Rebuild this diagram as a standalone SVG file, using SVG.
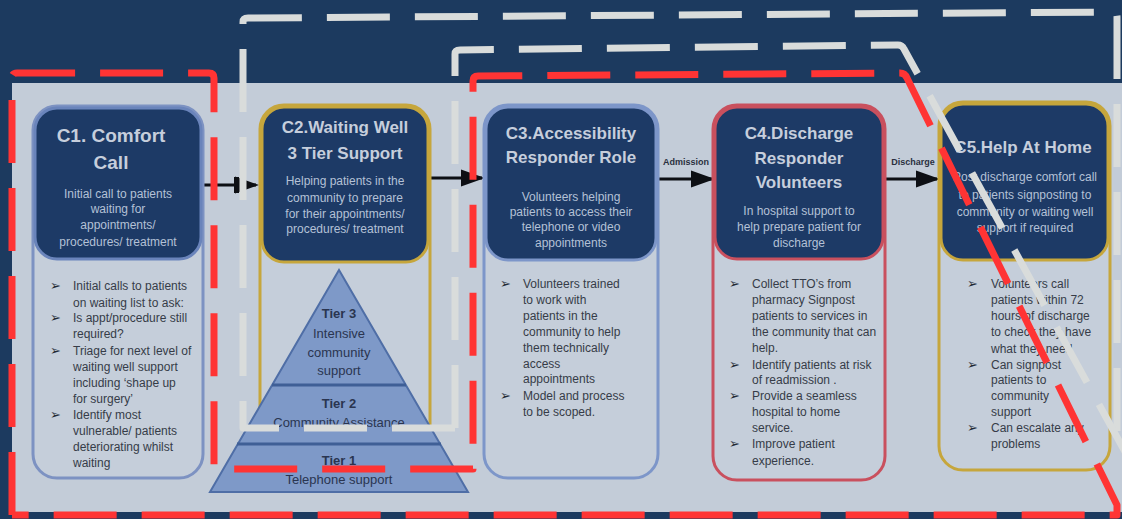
<svg xmlns="http://www.w3.org/2000/svg" width="1122" height="519" viewBox="0 0 1122 519">
  <defs>
    <style>
      .title { font-family: "Liberation Sans", Arial, sans-serif; font-weight: bold; fill: #c6cedc; text-anchor: middle; }
      .desc { font-family: "Liberation Sans", Arial, sans-serif; font-size: 12px; fill: #b4c1d6; text-anchor: middle; }
      .body { font-family: "Liberation Sans", Arial, sans-serif; font-size: 12px; fill: #363c48; }
      .bul { font-family: "DejaVu Sans", sans-serif; font-size: 13px; fill: #232833; }
      .tier { font-family: "Liberation Sans", Arial, sans-serif; font-size: 13px; fill: #2a3550; text-anchor: middle; }
      .tierb { font-weight: bold; }
      .lbl { font-family: "Liberation Sans", Arial, sans-serif; font-size: 9px; font-weight: bold; fill: #2a3040; text-anchor: middle; }
      .head { fill: #1d3a66; stroke-width: 3; }
      .card { fill: #c5ceda; stroke-width: 3; }
      .conn { stroke: #0d0f14; stroke-width: 3; fill: none; }
      .dash-red { fill: none; stroke: #ff3434; stroke-width: 7; stroke-dasharray: 63 25; stroke-linejoin: round; }
      .dash-white { fill: none; stroke: #d9dcdb; stroke-width: 7; stroke-dasharray: 63 25; stroke-linejoin: round; }
    </style>
    <marker id="arrow" markerWidth="8" markerHeight="8" refX="7" refY="4" orient="auto" markerUnits="strokeWidth">
      <path d="M0,1.2 L8,4 L0,6.8 Z" fill="#0d0f14"/>
    </marker>
  </defs>

  <!-- backdrop -->
  <rect x="0" y="0" width="1122" height="519" fill="#1c3a5f"/>
  <rect x="12" y="83" width="1110" height="429" fill="#c3ccd8"/>

  <!-- connectors -->
  <g id="connectors">
    <line class="conn" x1="204" y1="185" x2="256" y2="185" marker-end="url(#arrow)"/>
    <rect x="234" y="177" width="5" height="16" fill="#0d0f14"/>
    <line class="conn" x1="431" y1="178" x2="482" y2="178" marker-end="url(#arrow)"/>
    <line class="conn" x1="659" y1="179" x2="712" y2="179" marker-end="url(#arrow)"/>
    <text class="lbl" x="686" y="165">Admission</text>
    <line class="conn" x1="886" y1="179" x2="937" y2="179" marker-end="url(#arrow)"/>
    <text class="lbl" x="913" y="165">Discharge</text>
  </g>

  <!-- C1 -->
  <g id="c1">
    <rect class="card" x="33" y="106" width="170" height="372" rx="24" stroke="#7d92c2"/>
    <rect class="head" x="35" y="108" width="166" height="151" rx="22" stroke="#6a84bb"/>
    <text class="title" x="111" y="142" font-size="19">C1. Comfort</text>
    <text class="title" x="111" y="169" font-size="19">Call</text>
    <text class="desc" x="118" y="198">Initial call to patients</text>
    <text class="desc" x="118" y="213">waiting for</text>
    <text class="desc" x="118" y="229">appointments/</text>
    <text class="desc" x="118" y="246">procedures/ treatment</text>
    <text class="bul" x="50" y="290">➢</text>
    <text class="bul" x="50" y="322">➢</text>
    <text class="bul" x="50" y="355">➢</text>
    <text class="bul" x="50" y="419">➢</text>
    <text class="body" x="73" y="290">Initial calls to patients</text>
    <text class="body" x="73" y="307">on waiting list to ask:</text>
    <text class="body" x="73" y="322">Is appt/procedure still</text>
    <text class="body" x="73" y="338">required?</text>
    <text class="body" x="73" y="355">Triage for next level of</text>
    <text class="body" x="73" y="371">waiting well support</text>
    <text class="body" x="73" y="387">including ‘shape up</text>
    <text class="body" x="73" y="403">for surgery’</text>
    <text class="body" x="73" y="419">Identify most</text>
    <text class="body" x="73" y="435">vulnerable/ patients</text>
    <text class="body" x="73" y="451">deteriorating whilst</text>
    <text class="body" x="73" y="467">waiting</text>
  </g>

  <!-- C2 with tier pyramid -->
  <g id="c2">
    <rect class="card" x="260" y="105" width="170" height="360" rx="24" stroke="#c6a63c"/>
    <rect class="head" x="262" y="107" width="166" height="155" rx="22" stroke="#c6a63c"/>
    <text class="title" x="345" y="133" font-size="17">C2.Waiting Well</text>
    <text class="title" x="345" y="159" font-size="17">3 Tier Support</text>
    <text class="desc" x="345" y="185">Helping patients in the</text>
    <text class="desc" x="345" y="202">community to  prepare</text>
    <text class="desc" x="345" y="218">for their appointments/</text>
    <text class="desc" x="345" y="233">procedures/ treatment</text>
  </g>
  <g id="pyramid">
    <polygon points="339,270 468,492 210,492" fill="#7e99c8" stroke="#4f6ea6" stroke-width="2"/>
    <line x1="272" y1="385" x2="406" y2="385" stroke="#3f5f96" stroke-width="3"/>
    <line x1="237" y1="444" x2="441" y2="444" stroke="#3f5f96" stroke-width="3"/>
    <text class="tier tierb" x="339" y="318">Tier 3</text>
    <text class="tier" x="339" y="338">Intensive</text>
    <text class="tier" x="339" y="357">community</text>
    <text class="tier" x="339" y="375">support</text>
    <text class="tier tierb" x="339" y="408">Tier 2</text>
    <text class="tier" x="339" y="427">Community Assistance</text>
    <text class="tier tierb" x="339" y="465">Tier 1</text>
    <text class="tier" x="339" y="484">Telephone support</text>
  </g>

  <!-- C3 -->
  <g id="c3">
    <rect class="card" x="484" y="105" width="174" height="373" rx="24" stroke="#7d96c9"/>
    <rect class="head" x="486" y="107" width="170" height="153" rx="22" stroke="#7d96c9"/>
    <text class="title" x="571" y="139" font-size="17">C3.Accessibility</text>
    <text class="title" x="571" y="163" font-size="17">Responder Role</text>
    <text class="desc" x="571" y="201">Volunteers helping</text>
    <text class="desc" x="571" y="216">patients to access their</text>
    <text class="desc" x="571" y="231">telephone or video</text>
    <text class="desc" x="571" y="247">appointments</text>
    <text class="bul" x="500" y="288">➢</text>
    <text class="bul" x="500" y="400">➢</text>
    <text class="body" x="523" y="288">Volunteers trained</text>
    <text class="body" x="523" y="304">to work with</text>
    <text class="body" x="523" y="320">patients in the</text>
    <text class="body" x="523" y="336">community to help</text>
    <text class="body" x="523" y="352">them technically</text>
    <text class="body" x="523" y="368">access</text>
    <text class="body" x="523" y="383">appointments</text>
    <text class="body" x="523" y="400">Model and process</text>
    <text class="body" x="523" y="416">to be scoped.</text>
  </g>

  <!-- C4 -->
  <g id="c4">
    <rect class="card" x="713" y="105" width="172" height="375" rx="24" stroke="#c9505e"/>
    <rect class="head" x="715" y="107" width="168" height="152" rx="22" stroke="#c9505e"/>
    <text class="title" x="799" y="139" font-size="17">C4.Discharge</text>
    <text class="title" x="799" y="164" font-size="17">Responder</text>
    <text class="title" x="799" y="188" font-size="17">Volunteers</text>
    <text class="desc" x="799" y="215">In hospital  support to</text>
    <text class="desc" x="799" y="231">help prepare patient for</text>
    <text class="desc" x="799" y="247">discharge</text>
    <text class="bul" x="729" y="288">➢</text>
    <text class="bul" x="729" y="369">➢</text>
    <text class="bul" x="729" y="400">➢</text>
    <text class="bul" x="729" y="448">➢</text>
    <text class="body" x="752" y="288">Collect TTO’s from</text>
    <text class="body" x="752" y="304">pharmacy Signpost</text>
    <text class="body" x="752" y="320">patients to services in</text>
    <text class="body" x="752" y="336">the community that can</text>
    <text class="body" x="752" y="352">help.</text>
    <text class="body" x="752" y="369">Identify patients at risk</text>
    <text class="body" x="752" y="384">of readmission .</text>
    <text class="body" x="752" y="400">Provide a seamless</text>
    <text class="body" x="752" y="416">hospital to home</text>
    <text class="body" x="752" y="432">service.</text>
    <text class="body" x="752" y="448">Improve patient</text>
    <text class="body" x="752" y="465">experience.</text>
  </g>

  <!-- C5 -->
  <g id="c5">
    <rect class="card" x="939" y="102" width="171" height="368" rx="24" stroke="#c6a63c"/>
    <rect class="head" x="941" y="104" width="167" height="156" rx="22" stroke="#c6a63c"/>
    <text class="title" x="1023" y="153" font-size="17">C5.Help At  Home</text>
    <text class="desc" x="1025" y="181">Post discharge comfort call</text>
    <text class="desc" x="1025" y="199">to patients   signposting to</text>
    <text class="desc" x="1025" y="216">community or waiting well</text>
    <text class="desc" x="1025" y="232">support if required</text>
    <text class="bul" x="967" y="288">➢</text>
    <text class="bul" x="967" y="369">➢</text>
    <text class="bul" x="967" y="432">➢</text>
    <text class="body" x="991" y="288">Volunteers call</text>
    <text class="body" x="991" y="304">patients within 72</text>
    <text class="body" x="991" y="320">hours of discharge</text>
    <text class="body" x="991" y="336">to check they have</text>
    <text class="body" x="991" y="353">what they need</text>
    <text class="body" x="991" y="369">Can signpost</text>
    <text class="body" x="991" y="384">patients  to</text>
    <text class="body" x="991" y="400">community</text>
    <text class="body" x="991" y="416">support</text>
    <text class="body" x="991" y="432">Can escalate any</text>
    <text class="body" x="991" y="448">problems</text>
  </g>

  <!-- hand-drawn grouping outlines -->
  <path class="dash-white" d="M455,428 H243 V22 Q243,18 248,18 L1112,12 Q1117,12 1117,17 V440"/>
  <path class="dash-white" d="M455,428 V54 Q455,50 460,50 L898,45 Q902,45 904,49 L1135,470"/>
  <path class="dash-red" d="M12,515 V78 Q12,73 17,73 H209 Q214,73 214,78 V469 H473 V81 Q473,76 478,76 L900,73 Q905,73 907,78 L1117,505 V515 H12"/>
</svg>
